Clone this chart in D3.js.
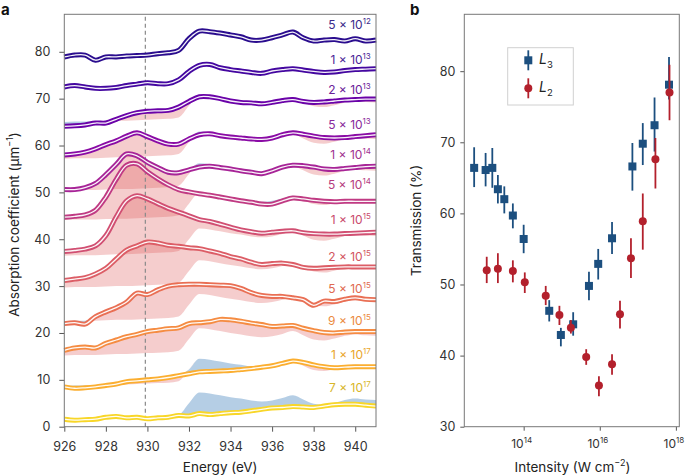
<!DOCTYPE html>
<html><head><meta charset="utf-8">
<script src="https://cdn.jsdelivr.net/npm/d3@7"></script>
<style>
body{margin:0;background:#fff;}
svg{font-family:Inter,"Liberation Sans",sans-serif;}
</style></head><body>
<svg id="c" width="685" height="475"></svg>
<script>
// ---------- Panel a data ----------
const energies = [926,926.5,927,927.5,928,928.5,929,929.5,930,930.5,931,931.5,932,932.5,933,933.5,934,934.5,935,935.5,936,936.5,937,937.5,938,938.5,939,939.5,940,940.5,941];
const abs_5e12 = [78.9,79.3,79.3,78.2,78.9,78.9,79.1,79.2,79.3,79.6,79.8,80.3,82.8,84.4,84.3,84.0,83.6,83.2,82.5,82.5,83.0,83.6,84.2,83.0,82.3,82.5,82.6,82.3,82.8,82.3,82.5];
const abs_1e13 = [72.5,72.8,72.5,72.2,72.2,72.4,72.8,73.1,73.4,73.2,73.2,74.0,75.8,77.1,77.3,76.6,76.2,75.9,75.6,75.4,75.9,76.2,76.4,76.1,75.8,75.6,75.7,76.0,76.2,76.3,76.4];
const abs_2e13 = [64.1,64.2,64.4,64.8,64.8,65.6,66.4,67.0,67.3,67.4,67.5,68.2,69.4,70.4,70.4,70.0,69.5,69.2,69.1,68.9,69.2,69.6,69.8,69.4,69.2,69.3,69.5,69.7,69.8,69.9,69.9];
const abs_5e13 = [58.0,58.2,58.6,59.3,60.2,61.0,62.0,62.7,61.9,61.0,60.3,60.3,61.4,62.3,62.5,62.1,61.8,61.6,61.4,61.3,61.6,62.3,62.7,62.4,62.0,61.7,61.6,61.7,61.9,62.1,62.3];
const abs_1e14 = [50.6,50.6,51.0,51.9,53.8,56.0,58.2,57.8,56.4,55.3,54.3,54.2,54.8,55.4,55.6,55.3,55.0,54.6,54.3,54.0,54.6,55.4,55.8,55.7,55.4,55.0,54.9,55.1,55.3,55.5,55.6];
const abs_5e14 = [44.7,44.9,45.2,46.2,49.0,52.8,55.8,56.1,54.4,52.9,51.6,50.6,50.1,49.7,49.4,49.0,48.6,48.2,47.9,47.5,47.5,48.2,48.8,48.6,48.3,48.1,48.0,48.1,48.1,48.1,48.1];
const abs_1e15 = [37.4,37.6,37.9,38.6,40.8,44.8,48.2,49.3,48.6,47.6,46.6,45.8,45.0,44.2,43.8,43.2,42.6,42.0,41.6,41.3,41.5,41.7,41.8,41.4,41.2,41.1,41.1,41.2,41.3,41.4,41.5];
const abs_2e15 = [31.2,31.5,31.8,32.6,33.8,35.8,37.7,38.6,39.4,39.2,38.7,38.5,38.2,38.0,37.5,37.0,36.3,35.8,35.1,34.6,34.8,34.9,34.6,34.0,33.8,33.9,34.0,34.1,34.1,34.1,34.1];
const abs_5e15 = [22.0,22.2,21.9,23.5,24.5,25.4,26.6,28.5,28.2,29.2,30.0,30.3,30.4,30.4,30.3,30.2,30.1,29.5,28.6,28.0,27.8,27.8,27.5,27.1,25.9,26.8,26.7,27.2,27.5,27.2,27.1];
const abs_9e15 = [16.3,16.8,17.0,16.8,17.8,18.5,19.2,19.7,20.3,20.6,20.9,21.1,22.0,22.2,22.4,22.9,22.8,22.5,22.1,21.8,21.4,21.5,21.6,21.0,20.5,20.1,20.0,20.2,20.3,20.3,20.3];
const abs_1e17 = [8.5,8.2,8.3,8.5,8.8,9.1,9.6,9.8,10.0,10.2,10.5,10.9,11.3,11.7,11.8,11.9,12.0,12.2,12.4,12.7,13.0,13.5,14.0,13.7,13.2,12.8,12.6,12.7,12.8,12.8,12.8];
const abs_7e17 = [1.6,1.4,1.5,1.6,2.0,2.2,1.9,2.0,1.7,1.9,2.0,2.4,2.3,2.8,2.6,2.8,3.0,3.1,3.4,3.7,4.0,4.1,4.3,4.2,4.1,4.4,4.7,4.8,4.8,4.6,4.4];
const spectra = [abs_5e12,abs_1e13,abs_2e13,abs_5e13,abs_1e14,abs_5e14,abs_1e15,abs_2e15,abs_5e15,abs_9e15,abs_1e17,abs_7e17];
const intensityMantissa = ["5","1","2","5","1","5","1","2","5","9","1","7"];
const intensityExponent = ["12","13","13","13","14","14","15","15","15","15","17","17"];
const labelLevels = [85.7,78.3,71.9,64.4,58.0,51.6,44.1,36.3,29.4,22.6,15.3,8.3];
// reference (low-intensity) spectrum shape, relative to its pre-edge level
const refShape = [0,0.1,0.1,0.1,0.2,0.3,0.3,0.4,0.5,0.6,0.7,1.0,3.5,5.8,5.6,5.2,4.8,4.5,4.1,3.9,4.1,4.6,5.2,4.3,3.4,3.2,3.6,4.2,4.5,4.3,4.2];
const refBase = [null,null,65.0,57.2,50.4,44.1,36.5,29.7,22.5,15.2,8.7,1.5];
const edgeEnergy = 929.9;
const energyTicks = [926,928,930,932,934,936,938,940];
const absTicks = [0,10,20,30,40,50,60,70,80];
const seriesColors = ["#2a0c8e","#4407a0","#6a02a8","#8a0ba5","#a72497","#c03a83","#d14f72","#dc5d66","#e96f54","#f58c42","#fbae30","#f8d628"];
const labelColors  = ["#3a2a8a","#4a2696","#6a2198","#88289a","#a0308f","#b53b7e","#c94a6c","#d25560","#e06a50","#eb8a40","#e9a52c","#d8b62a"];

// ---------- Panel b data ----------
const l3Intensity = [5.0e12,1.0e13,1.5e13,2.1e13,3.1e13,5.2e13,1.0e14,4.7e14,9.5e14,2.0e15,5.2e15,9.1e15,2.1e16,7.2e16,1.35e17,2.75e17,6.6e17];
const l3Trans = [66.4,66.1,66.4,63.4,62.0,59.7,56.4,46.3,42.9,44.4,49.8,52.9,56.5,66.6,69.8,72.4,78.1];
const l3Low   = [63.7,63.8,63.6,61.4,60.0,57.9,54.4,44.8,41.3,42.8,47.8,50.7,54.3,63.2,66.8,68.7,76.0];
const l3High  = [69.3,68.5,69.2,65.4,63.8,61.4,58.4,47.8,43.9,46.1,51.8,55.0,58.8,69.9,72.7,76.3,82.0];
const l2Intensity = [1.07e13,2.1e13,5.2e13,1.07e14,3.8e14,8.7e14,1.74e15,4.4e15,9.5e15,2.1e16,3.4e16,6.6e16,1.35e17,2.9e17,6.8e17];
const l2Trans = [52.0,52.2,51.9,50.3,48.4,45.7,43.9,39.8,35.8,38.8,45.8,53.7,58.9,67.6,77.0];
const l2Low   = [50.2,50.2,50.3,48.8,47.1,44.3,43.1,38.7,34.3,37.3,43.8,50.9,54.9,63.5,73.1];
const l2High  = [53.9,54.4,53.4,51.7,49.8,47.0,45.0,40.9,37.1,40.2,47.7,56.5,62.8,70.6,80.9];
const transTicks = [30,40,50,60,70,80];
const intensityTickExp = [14,16,18];
const seriesNames = ["3","2"];

// ---------- Drawing ----------
const svg = d3.select("#c");
const tickColor = "#555", textColor = "#333", frameColor = "#777";

// Panel a
const xA = d3.scaleLinear().domain([926,941]).range([64.3,376]);
const yA = d3.scaleLinear().domain([0,88]).range([426.7,14.3]);
const gA = svg.append("g");

const curve = d3.curveCatmullRom.alpha(0.5);
spectra.forEach((vals,i)=>{
  if(refBase[i]==null) return;
  const pts = energies.map((e,j)=>({e:e, v:vals[j], r:refBase[i]+refShape[j]}));
  gA.append("path").datum(pts)
    .attr("d", d3.area().x(d=>xA(d.e)).y0(d=>yA(d.r)).y1(d=>yA(Math.max(d.r,d.v))).curve(d3.curveMonotoneX))
    .attr("fill","rgb(222,88,88)").attr("fill-opacity",0.3);
  gA.append("path").datum(pts)
    .attr("d", d3.area().x(d=>xA(d.e)).y0(d=>yA(d.v)).y1(d=>yA(Math.max(d.r,d.v))).curve(d3.curveMonotoneX))
    .attr("fill","#a8c6e1").attr("fill-opacity",0.85);
});

// dashed edge marker
gA.append("line").attr("x1",xA(edgeEnergy)).attr("x2",xA(edgeEnergy))
  .attr("y1",yA(0)).attr("y2",yA(88)).attr("stroke","#8a8a8a").attr("stroke-width",1.2)
  .attr("stroke-dasharray","4,3");

const lineGen = d3.line().x((d,j)=>xA(energies[j])).y(d=>yA(d)).curve(curve);
spectra.forEach((vals,i)=>{
  gA.append("path").datum(vals).attr("d",lineGen).attr("fill","none")
    .attr("stroke",seriesColors[i]).attr("stroke-width",5).attr("stroke-linejoin","round");
  gA.append("path").datum(vals).attr("d",lineGen).attr("fill","none")
    .attr("stroke","#fff").attr("stroke-width",1.3).attr("stroke-opacity",0.95);
});

// labels
spectra.forEach((vals,i)=>{
  const t = gA.append("text").attr("x",xA(940.75)).attr("y",yA(labelLevels[i])).attr("dy","0.35em")
    .attr("text-anchor","end").attr("fill",labelColors[i]).attr("font-size",12);
  t.append("tspan").text(intensityMantissa[i]+" \u00d7 10");
  t.append("tspan").attr("font-size",8).attr("dy",-5).text(intensityExponent[i]);
});

// axes panel a
const axLeftA = svg.append("g").attr("transform",`translate(${xA(926)},0)`)
  .call(d3.axisLeft(yA).tickValues(absTicks).tickSize(5).tickPadding(9));
const axBotA = svg.append("g").attr("transform",`translate(0,${yA(0)})`)
  .call(d3.axisBottom(xA).tickValues(energyTicks).tickSize(5).tickPadding(10));
[axLeftA,axBotA].forEach(a=>{
  a.select(".domain").remove();
  a.selectAll(".tick line").attr("stroke",tickColor);
  a.selectAll(".tick text").attr("fill",textColor).attr("font-size",12.5).style("font-family","Inter,'Liberation Sans',sans-serif");
});
svg.append("rect").attr("x",xA(926)).attr("y",yA(88)).attr("width",xA(941)-xA(926)).attr("height",yA(0)-yA(88))
  .attr("fill","none").attr("stroke",frameColor).attr("stroke-width",1);

// titles a
const yTitleA = svg.append("text").attr("transform",`translate(19,${(yA(0)+yA(88))/2+4}) rotate(-90)`)
  .attr("text-anchor","middle").attr("fill","#222").attr("font-size",13.5);
yTitleA.append("tspan").text("Absorption coefficient (\u03bcm");
yTitleA.append("tspan").attr("font-size",9).attr("dy",-6).text("\u22121");
yTitleA.append("tspan").attr("dy",6).text(")");
svg.append("text").attr("x",(xA(926)+xA(941))/2).attr("y",472).attr("text-anchor","middle")
  .attr("fill","#222").attr("font-size",13.5).text("Energy (eV)");
svg.append("text").attr("x",1).attr("y",15).attr("font-weight","bold").attr("font-size",15).attr("fill","#111").text("a");
svg.append("text").attr("x",410).attr("y",15).attr("font-weight","bold").attr("font-size",15).attr("fill","#111").text("b");

// Panel b
const xB = d3.scaleLog().domain([Math.pow(10,12.44),Math.pow(10,18.09)]).range([464.3,679.3]);
const yB = d3.scaleLinear().domain([30,88]).range([426.7,14.3]);
const axLeftB = svg.append("g").attr("transform",`translate(${xB.range()[0]},0)`)
  .call(d3.axisLeft(yB).tickValues(transTicks).tickSize(4).tickPadding(5));
axLeftB.select(".domain").remove();
axLeftB.selectAll(".tick line").attr("stroke",tickColor);
axLeftB.selectAll(".tick text").attr("fill",textColor).attr("font-size",12.5).style("font-family","Inter,'Liberation Sans',sans-serif");

const tickVals = intensityTickExp.map(e=>Math.pow(10,e));
const axBotB = svg.append("g").attr("transform",`translate(0,${yB(30)})`)
  .call(d3.axisBottom(xB).tickValues(tickVals).tickSize(4).tickFormat(""));
axBotB.select(".domain").remove();
axBotB.selectAll(".tick line").attr("stroke",tickColor);
intensityTickExp.forEach(e=>{
  const t = svg.append("text").attr("x",xB(Math.pow(10,e))-2).attr("y",yB(30)+21.5)
    .attr("text-anchor","middle").attr("fill",textColor).attr("font-size",12);
  t.append("tspan").text("10");
  t.append("tspan").attr("font-size",8).attr("dy",-5).text(e);
});
svg.append("rect").attr("x",464.3).attr("y",yB(88)).attr("width",679.3-464.3).attr("height",yB(30)-yB(88))
  .attr("fill","none").attr("stroke",frameColor).attr("stroke-width",1);

const blue = "#1c4f7f", red = "#b3202c";
const gB = svg.append("g");
// L3
l3Intensity.forEach((x,i)=>{
  gB.append("line").attr("x1",xB(x)).attr("x2",xB(x)).attr("y1",yB(l3Low[i])).attr("y2",yB(l3High[i]))
    .attr("stroke",blue).attr("stroke-width",1.8);
});
gB.selectAll("rect.l3").data(l3Intensity).enter().append("rect")
  .attr("x",(d)=>xB(d)-4).attr("y",(d,i)=>yB(l3Trans[i])-4).attr("width",8).attr("height",8).attr("fill",blue);
// L2
l2Intensity.forEach((x,i)=>{
  gB.append("line").attr("x1",xB(x)).attr("x2",xB(x)).attr("y1",yB(l2Low[i])).attr("y2",yB(l2High[i]))
    .attr("stroke",red).attr("stroke-width",1.8);
});
gB.selectAll("circle.l2").data(l2Intensity).enter().append("circle")
  .attr("cx",d=>xB(d)).attr("cy",(d,i)=>yB(l2Trans[i])).attr("r",4).attr("fill",red);

// legend
const lg = svg.append("g");
lg.append("rect").attr("x",507.7).attr("y",47.7).attr("width",65.6).attr("height",57.3)
  .attr("fill","#fff").attr("stroke","#d0d0d0").attr("stroke-width",1);
[[blue,"sq",60.3,seriesNames[0]],[red,"ci",88.3,seriesNames[1]]].forEach(([c,m,y,n])=>{
  lg.append("line").attr("x1",528.3).attr("x2",528.3).attr("y1",y-10).attr("y2",y+10).attr("stroke",c).attr("stroke-width",1.8);
  if(m==="sq") lg.append("rect").attr("x",524.3).attr("y",y-4).attr("width",8).attr("height",8).attr("fill",c);
  else lg.append("circle").attr("cx",528.3).attr("cy",y).attr("r",4).attr("fill",c);
  const t = lg.append("text").attr("x",539).attr("y",y+4).attr("fill","#222").attr("font-size",14);
  t.append("tspan").attr("font-style","italic").text("L");
  t.append("tspan").attr("font-size",9.5).attr("dy",4).text(n);
});

// titles b
svg.append("text").attr("transform",`translate(421,${(yB(30)+yB(88))/2}) rotate(-90)`)
  .attr("text-anchor","middle").attr("fill","#222").attr("font-size",13.5).text("Transmission (%)");
const xtB = svg.append("text").attr("x",572.5).attr("y",472).attr("text-anchor","middle").attr("fill","#222").attr("font-size",13.5);
xtB.append("tspan").text("Intensity (W cm");
xtB.append("tspan").attr("font-size",9).attr("dy",-6).text("\u22122");
xtB.append("tspan").attr("dy",6).text(")");
</script>
</body></html>
